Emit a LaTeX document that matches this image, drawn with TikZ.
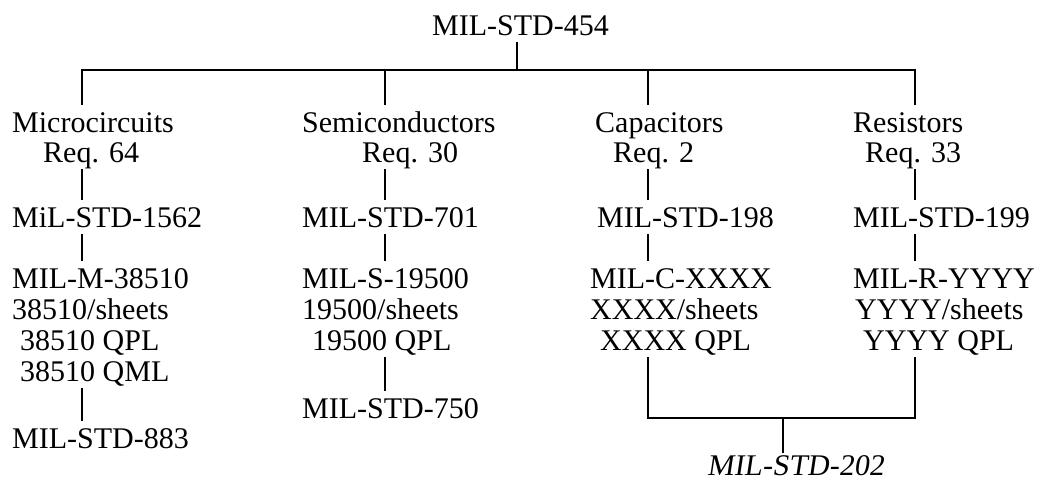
\documentclass[tikz,border=0pt]{standalone}
\usepackage{fontspec}
\setmainfont{Liberation Serif}
\newfontfamily\slantserif[FakeSlant=0.15]{Liberation Serif}
\begin{document}
\begin{tikzpicture}[x=1pt,y=-1pt,
  lbl/.style={anchor=base west,inner xsep=0pt,inner ysep=7pt,text height=20pt,text depth=0pt,
    font=\fontsize{30}{30}\selectfont},
  conn/.style={line width=2pt}]
\useasboundingbox (0,0) rectangle (1040,483);
% top
\node[lbl] (top) at (432,35) {MIL-STD-454};
% column 1
\node[lbl] (c1a) at (12,132) {Microcircuits};
\node[lbl] (c1b) at (43,162) {Req. 64};
\node[lbl] (c1c) at (12,227) {MiL-STD-1562};
\node[lbl] (c1d) at (12,288) {MIL-M-38510};
\node[lbl] (c1e) at (12,319) {38510/sheets};
\node[lbl] (c1f) at (20,350) {38510 QPL};
\node[lbl] (c1g) at (20,381) {38510 QML};
\node[lbl] (c1h) at (12,448) {MIL-STD-883};
% column 2
\node[lbl] (c2a) at (302,132) {Semiconductors};
\node[lbl] (c2b) at (362,162) {Req. 30};
\node[lbl] (c2c) at (302,227) {MIL-STD-701};
\node[lbl] (c2d) at (302,288) {MIL-S-19500};
\node[lbl] (c2e) at (302,319) {19500/sheets};
\node[lbl] (c2f) at (312,350) {19500 QPL};
\node[lbl] (c2h) at (302,418) {MIL-STD-750};
% column 3
\node[lbl] (c3a) at (595,132) {Capacitors};
\node[lbl] (c3b) at (613,162) {Req. 2};
\node[lbl] (c3c) at (597,227) {MIL-STD-198};
\node[lbl] (c3d) at (590,288) {MIL-C-XXXX};
\node[lbl] (c3e) at (590,319) {XXXX/sheets};
\node[lbl] (c3f) at (600,350) {XXXX QPL};
% column 4
\node[lbl] (c4a) at (853,132) {Resistors};
\node[lbl] (c4b) at (865,162) {Req. 33};
\node[lbl] (c4c) at (853,227) {MIL-STD-199};
\node[lbl] (c4d) at (853,288) {MIL-R-YYYY};
\node[lbl] (c4e) at (855,319) {YYYY/sheets};
\node[lbl] (c4f) at (863,350) {YYYY QPL};
% bottom
\node[lbl,inner ysep=2pt,font=\fontsize{30}{30}\slantserif] (m202) at (707,475) {MIL-STD-202};
% bus coordinates
\coordinate (b0) at (517,70);
\coordinate (b1) at (82,70);
\coordinate (b2) at (385,70);
\coordinate (b3) at (648,70);
\coordinate (b4) at (915,70);
\coordinate (d3) at (648,418);
\coordinate (d4) at (915,418);
\coordinate (dm) at (783,418);
% top connectors
\draw[conn] (top.south -| b0) -- (b0);
\draw[conn] (b1 |- c1a.north) -- (b1) -- (b4) -- (b4 |- c4a.north);
\draw[conn] (b2) -- (b2 |- c2a.north);
\draw[conn] (b3) -- (b3 |- c3a.north);
% column connectors
\draw[conn] (b1 |- c1b.south) -- (b1 |- c1c.north);
\draw[conn] (b1 |- c1c.south) -- (b1 |- c1d.north);
\draw[conn] (b1 |- c1g.south) -- (b1 |- c1h.north);
\draw[conn] (b2 |- c2b.south) -- (b2 |- c2c.north);
\draw[conn] (b2 |- c2c.south) -- (b2 |- c2d.north);
\draw[conn] (b2 |- c2f.south) -- (b2 |- c2h.north);
\draw[conn] (b3 |- c3b.south) -- (b3 |- c3c.north);
\draw[conn] (b3 |- c3c.south) -- (b3 |- c3d.north);
\draw[conn] (b4 |- c4b.south) -- (b4 |- c4c.north);
\draw[conn] (b4 |- c4c.south) -- (b4 |- c4d.north);
% bottom bus
\draw[conn] (b3 |- c3f.south) -- (d3) -- (d4) -- (b4 |- c4f.south);
\draw[conn] (dm) -- (dm |- m202.north);
\end{tikzpicture}
\end{document}
